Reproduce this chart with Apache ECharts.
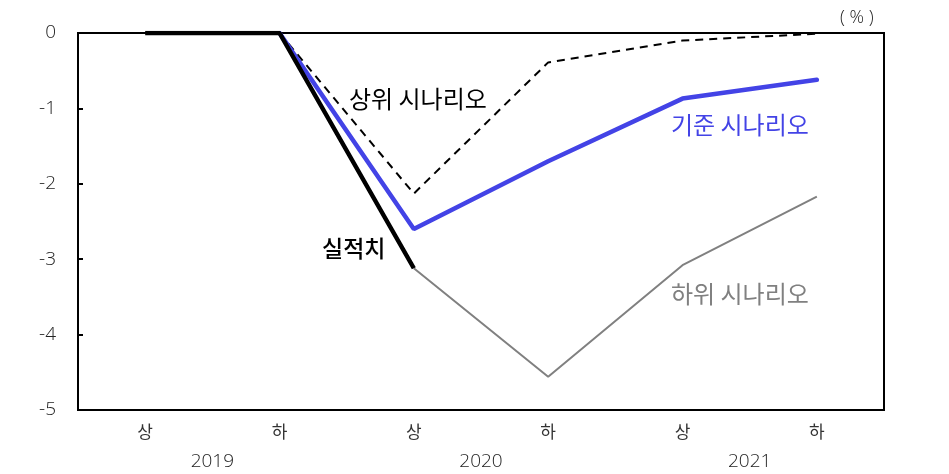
<!DOCTYPE html>
<html><head><meta charset="utf-8">
<script src="https://cdn.jsdelivr.net/npm/echarts@6/dist/echarts.min.js"></script>
<style>html,body{margin:0;padding:0;background:#fff}#c{width:949px;height:474px}</style>
</head><body><div id="c"></div>
<script>
const halves = ['상','하','상','하','상','하'];
const years = ['2019','2020','2021'];
const actual = [0, 0, -3.12, null, null, null];
const upper = [null, 0, -2.13, -0.39, -0.1, -0.01];
const baseline = [null, 0, -2.6, -1.7, -0.87, -0.62];
const lower = [null, null, -3.12, -4.56, -3.08, -2.17];
const yTicks = [0, -1, -2, -3, -4, -5];

const F = '"Noto Sans CJK KR", "Noto Sans", sans-serif';
const N = '"Open Sans", "Noto Sans", sans-serif';
function lbl(text, x, y, color, size, weight) {
  return {type: 'text', x: x, y: y, style: {text: text, fontFamily: F, fontSize: size, fontWeight: weight || 'normal', fill: color, verticalAlign: 'middle', align: 'left'}};
}
const chart = echarts.init(document.getElementById('c'));
chart.setOption({
  animation: false,
  grid: {left: 78, right: 65, top: 33, bottom: 64, show: true, borderColor: '#000', borderWidth: 2, backgroundColor: 'transparent'},
  xAxis: [{
    type: 'category', data: halves, boundaryGap: true,
    axisLine: {lineStyle: {color: '#000', width: 2}}, axisTick: {show: false},
    axisLabel: {fontFamily: F, fontSize: 17, color: '#333', margin: 13}
  }, {
    type: 'category', data: years, position: 'bottom', offset: 32, boundaryGap: true,
    axisLine: {show: false}, axisTick: {show: false},
    axisLabel: {fontFamily: N, fontSize: 19, fontWeight: 300, color: '#222', margin: 10}
  }],
  yAxis: {
    type: 'value', min: -5, max: 0, interval: 1,
    axisLine: {show: true, lineStyle: {color: '#000', width: 2}},
    axisTick: {show: true, inside: true, length: 5, lineStyle: {color: '#000', width: 2}},
    splitLine: {show: false},
    axisLabel: {fontFamily: N, fontSize: 19, fontWeight: 300, color: '#222', margin: 22}
  },
  graphic: [
    {type: 'text', x: 840, y: 18, style: {text: '( % )', fontFamily: N, fontSize: 18, fontWeight: 300, fill: '#222', verticalAlign: 'middle'}},
    lbl('상위 시나리오', 349, 99, '#000', 24),
    lbl('기준 시나리오', 671, 125, '#4343E6', 24),
    lbl('하위 시나리오', 671, 294, '#808080', 24),
    lbl('실적치', 322, 248, '#000', 23, 500)
  ],
  series: [
    {type: 'line', data: lower, symbol: 'none', lineStyle: {color: '#808080', width: 2}, z: 2},
    {type: 'line', data: upper, symbol: 'none', lineStyle: {color: '#000', width: 2, type: [8, 6]}, z: 3},
    {type: 'line', data: baseline, symbol: 'none', lineStyle: {color: '#4343E6', width: 4.5, cap: 'round'}, z: 4},
    {type: 'line', data: actual, symbol: 'none', lineStyle: {color: '#000', width: 4.5}, z: 5}
  ]
});
</script></body></html>
